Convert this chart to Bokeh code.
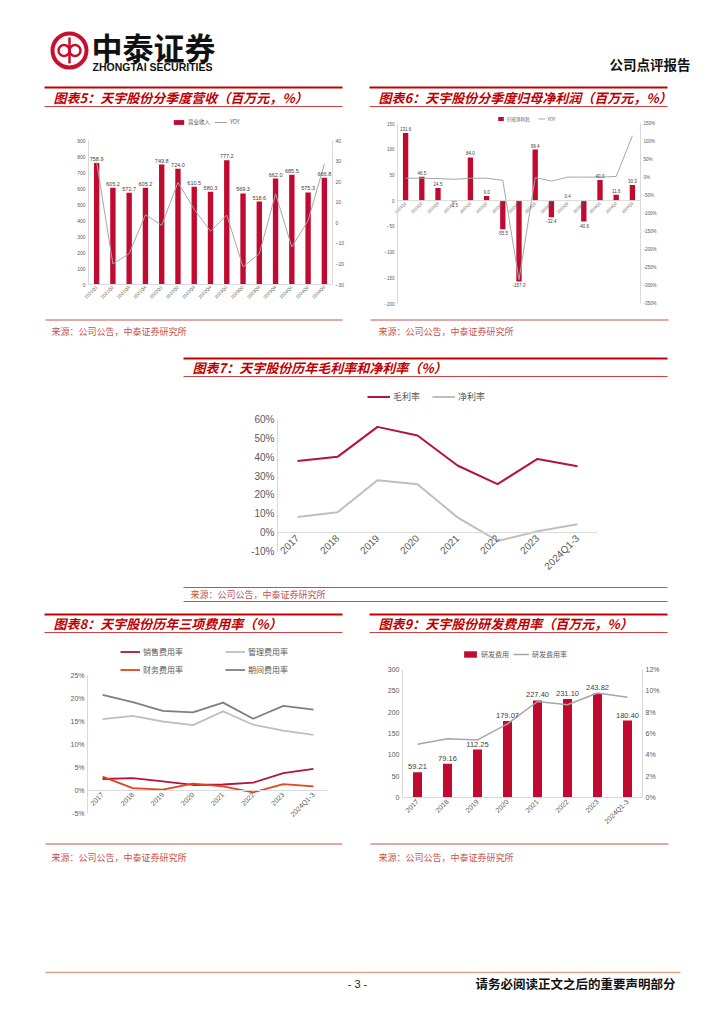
import math
from bokeh.plotting import figure
from bokeh.models import (Range1d, FactorRange, LinearAxis, FixedTicker, PrintfTickFormatter,
                          Legend, LegendItem, Spacer, Span)
from bokeh.layouts import column, row
from bokeh.core.properties import value
from bokeh.embed import file_html
from bokeh.resources import INLINE

# ---------------- data ----------------
quarters = ["2021Q1", "2021Q2", "2021Q3", "2021Q4", "2022Q1", "2022Q2", "2022Q3", "2022Q4",
            "2023Q1", "2023Q2", "2023Q3", "2023Q4", "2024Q1", "2024Q2", "2024Q3"]
revenue = [758.9, 605.2, 572.7, 605.2, 749.8, 724.0, 610.5, 580.3,
           777.2, 569.3, 518.6, 662.0, 685.5, 575.3, 666.8]
revenue_yoy = [29.5, -20.0, -15.0, 3.9, -1.2, 19.6, 6.6, -4.1,
               3.7, -21.4, -15.1, 14.1, -11.8, 1.1, 28.6]
net_profit = [131.6, 46.5, 24.5, -1.5, 84.0, 9.0, -55.5, -157.0,
              99.4, -32.4, 0.4, -40.6, 40.0, 11.6, 30.3]
net_profit_yoy = [-2, -2, -3, -5, -2, -2, -8, -284, 0, -10, 1, 1, 1, 3, 116]

years = ["2017", "2018", "2019", "2020", "2021", "2022", "2023", "2024Q1-3"]
gross_margin = [38.0, 40.2, 56.1, 51.5, 35.6, 25.7, 39.1, 35.2]
net_margin = [8.3, 10.8, 27.8, 25.7, 8.1, -4.4, 0.7, 4.4]
selling_rate = [2.5, 2.7, 2.0, 1.2, 1.3, 1.7, 3.8, 4.7]
admin_rate = [15.5, 16.2, 15.0, 14.2, 17.2, 14.3, 13.0, 12.1]
finance_rate = [3.0, 0.5, 0.2, 1.5, 0.9, -0.4, 1.4, 0.9]
period_rate = [20.8, 19.2, 17.3, 17.0, 19.1, 15.6, 18.4, 17.6]
rd_expense = [59.21, 79.16, 112.25, 179.07, 227.40, 231.10, 243.82, 180.40]
rd_rate = [5.0, 5.5, 5.4, 6.9, 9.0, 8.7, 9.8, 9.4]

# ---------------- styles ----------------
RED = "#C00A30"
CRIMSON = "#B5123C"
ORANGE = "#E0451B"
LGRAY = "#BFBFBF"
DGRAY = "#7F7F7F"
AX = "#D9D9D9"
TXT = "#595959"
CJK = "Noto Sans CJK SC"
LAT = "Liberation Sans"
TITLE_RED = "#C00000"
SRC_RED = "#C8504D"
SRC = "来源：公司公告，中泰证券研究所"


def lin(y, ya, va, yb, vb):
    return va + (y - ya) * (vb - va) / (yb - ya)


def base_fig(fb, fr, x_range, y_range):
    fx0, fy0, fx1, fy1 = fb
    px0, py0, px1, py1 = fr
    p = figure(width=fx1 - fx0, height=fy1 - fy0, x_range=x_range, y_range=y_range,
               output_backend="svg", toolbar_location=None, tools="",
               min_border_left=px0 - fx0, min_border_right=fx1 - px1,
               min_border_top=py0 - fy0, min_border_bottom=fy1 - py1)
    p.outline_line_color = None
    p.grid.visible = False
    p.background_fill_color = "white"
    p.border_fill_color = "white"
    return p


def style_axis(ax, size, font=LAT, standoff=3):
    ax.axis_line_color = AX
    ax.major_tick_line_color = None
    ax.minor_tick_line_color = None
    ax.major_tick_out = 0
    ax.major_tick_in = 0
    ax.minor_tick_out = 0
    ax.minor_tick_in = 0
    ax.major_label_text_font_size = f"{size}px"
    ax.major_label_text_color = TXT
    ax.major_label_text_font = font
    ax.major_label_standoff = standoff


def zero_axis(p, fr, size, gap):
    """x labels hang from the zero line (Excel style): axis line hidden, zero line as a Span."""
    px0, py0, px1, py1 = fr
    yr = p.y_range
    zpx = py1 - (0 - yr.start) / (yr.end - yr.start) * (py1 - py0)
    ax = p.xaxis[0]
    style_axis(ax, size, standoff=int(round(-(py1 - zpx) + gap)))
    ax.axis_line_color = None
    ax.major_label_orientation = math.pi / 4
    p.add_layout(Span(location=0, dimension="width", line_color=AX, line_width=1))


def legend_at(p, items, fr, x, yc, h, orientation="horizontal", size=9, font=CJK,
              gw=20, gh=None, spacing=10):
    px0, py0, px1, py1 = fr
    leg = Legend(items=items, orientation=orientation)
    leg.label_text_font = font
    leg.label_text_font_size = f"{size}px"
    leg.label_text_color = TXT
    leg.glyph_width = gw
    leg.glyph_height = gh if gh is not None else h
    leg.label_height = h
    leg.label_standoff = 3
    leg.spacing = spacing
    leg.padding = 0
    leg.margin = 0
    leg.border_line_color = None
    leg.background_fill_alpha = 0
    n = len(items) if orientation == "vertical" else 1
    total_h = n * h + (n - 1) * spacing
    leg.location = (x - px0, py1 - (yc - h / 2) - total_h)
    p.add_layout(leg, "center")
    return leg


def decor(x0, y0, x1, y1):
    p = figure(width=x1 - x0, height=y1 - y0, x_range=Range1d(x0, x1), y_range=Range1d(y1, y0),
               x_axis_type=None, y_axis_type=None, output_backend="svg",
               toolbar_location=None, tools="",
               min_border_left=0, min_border_right=0, min_border_top=0, min_border_bottom=0)
    p.outline_line_color = None
    p.grid.visible = False
    p.background_fill_color = "white"
    p.border_fill_color = "white"
    return p


def title_bar(p, x0, x1, ytop, ytxt, ybot, text):
    p.segment(x0=[x0], y0=[ytop], x1=[x1], y1=[ytop], line_color=TITLE_RED, line_width=2)
    p.segment(x0=[x0], y0=[ybot], x1=[x1], y1=[ybot], line_color="#D04040", line_width=1)
    p.text(x=[x0 + 9], y=[ytxt], text=[text], text_font=value(CJK), text_font_size="13px",
           text_font_style="bold italic", text_color=TITLE_RED, text_baseline="middle")


def source(p, x0, x1, yline, ytxt, xt):
    p.segment(x0=[x0], y0=[yline], x1=[x1], y1=[yline], line_color=SRC_RED, line_width=1)
    p.text(x=[xt], y=[ytxt], text=[SRC], text_font=value(CJK),
           text_font_size="9px", text_color=SRC_RED, text_baseline="middle")


W = 720

# ---------------- header ----------------
hdr = decor(0, 0, W, 80)
hdr.circle(x=[69], y=[50], radius=17, fill_color=None, line_color="#C8102E", line_width=4)
hdr.circle(x=[63.5, 74.5], y=[50, 50], radius=5.5, fill_color=None, line_color="#C8102E", line_width=2.5)
hdr.segment(x0=[69], y0=[37], x1=[69], y1=[63], line_color="#C8102E", line_width=2.5)
hdr.text(x=[91], y=[46], text=["中泰证券"], text_font=value(CJK), text_font_size="31px",
         text_font_style="bold", text_color="#111111", text_baseline="middle")
hdr.text(x=[92], y=[66], text=["ZHONGTAI SECURITIES"], text_font=value(LAT), text_font_size="10.5px",
         text_font_style="bold", text_color="#111111", text_baseline="middle")
hdr.text(x=[690], y=[63], text=["公司点评报告"], text_font=value(CJK), text_font_size="13.5px",
         text_font_style="bold", text_color="#111111", text_baseline="middle", text_align="right")

# ---------------- titles 5 & 6 ----------------
t56 = decor(0, 80, W, 110)
title_bar(t56, 44, 342, 87, 97, 106, "图表5：天宇股份分季度营收（百万元，%）")
title_bar(t56, 369, 667, 87, 97, 106, "图表6：天宇股份分季度归母净利润（百万元，%）")

# row 1 frames share top/bottom (Bokeh aligns frames inside a row)
R1_TOP, R1_BOT = 112, 303

# ---------------- chart 5 ----------------
fb5 = (40, 110, 350, 318)
fr5 = (88, R1_TOP, 332, R1_BOT)
p5 = base_fig(fb5, fr5, FactorRange(factors=quarters),
              Range1d(lin(R1_BOT, 284, 0, 140, 900), lin(R1_TOP, 284, 0, 140, 900)))
p5.extra_y_ranges = {"yoy": Range1d(lin(R1_BOT, 284, -30, 140, 40), lin(R1_TOP, 284, -30, 140, 40))}
r5b = p5.vbar(x=quarters, top=revenue, width=0.33, fill_color=RED, line_color=None)
r5l = p5.line(x=quarters, y=revenue_yoy, y_range_name="yoy", line_color="#A6A6A6", line_width=1)
p5.text(x=quarters, y=revenue, text=[f"{v:.1f}" for v in revenue], text_align="center",
        text_baseline="bottom", y_offset=-2, text_font=value(LAT), text_font_size="5.5px",
        text_color="#404040")
style_axis(p5.yaxis[0], 5)
p5.yaxis[0].ticker = FixedTicker(ticks=[0, 100, 200, 300, 400, 500, 600, 700, 800, 900])
p5.yaxis[0].bounds = (0, 900)
ax5r = LinearAxis(y_range_name="yoy", ticker=FixedTicker(ticks=[-30, -20, -10, 0, 10, 20, 30, 40]),
                  bounds=(-30, 40))
style_axis(ax5r, 5)
p5.add_layout(ax5r, "right")
zero_axis(p5, fr5, 4.5, 2)
legend_at(p5, [LegendItem(label="营业收入", renderers=[r5b]), LegendItem(label="YOY", renderers=[r5l])],
          fr5, 172, 123, 6, size=5.5, gw=13, gh=6, spacing=4)

# ---------------- chart 6 ----------------
fb6 = (350, 110, 680, 318)
fr6 = (397, R1_TOP, 640, R1_BOT)
p6 = base_fig(fb6, fr6, FactorRange(factors=quarters),
              Range1d(-200, lin(R1_TOP, R1_BOT, -200, 123, 150)))
p6.extra_y_ranges = {"yoy": Range1d(-350, lin(R1_TOP, R1_BOT, -350, 123, 150))}
r6b = p6.vbar(x=quarters, top=net_profit, width=0.33, fill_color=RED, line_color=None)
r6l = p6.line(x=quarters, y=net_profit_yoy, y_range_name="yoy", line_color="#A6A6A6", line_width=1)
pos_q = [q for q, v in zip(quarters, net_profit) if v >= 0]
pos_v = [v for v in net_profit if v >= 0]
neg_q = [q for q, v in zip(quarters, net_profit) if v < 0]
neg_v = [v for v in net_profit if v < 0]
p6.text(x=pos_q, y=pos_v, text=[f"{v:.1f}" for v in pos_v], text_align="center",
        text_baseline="bottom", y_offset=-2, text_font=value(LAT), text_font_size="4.5px",
        text_color="#404040")
p6.text(x=neg_q, y=neg_v, text=[f"{v:.1f}" for v in neg_v], text_align="center",
        text_baseline="top", y_offset=2, text_font=value(LAT), text_font_size="4.5px",
        text_color="#404040")
style_axis(p6.yaxis[0], 4.5)
p6.yaxis[0].ticker = FixedTicker(ticks=[-200, -150, -100, -50, 0, 50, 100, 150])
p6.yaxis[0].bounds = (-200, 150)
ax6r = LinearAxis(y_range_name="yoy",
                  ticker=FixedTicker(ticks=[-350, -300, -250, -200, -150, -100, -50, 0, 50, 100, 150]),
                  bounds=(-350, 150), formatter=PrintfTickFormatter(format="%d%%"))
style_axis(ax6r, 4.5)
p6.add_layout(ax6r, "right")
zero_axis(p6, fr6, 4, 2)
legend_at(p6, [LegendItem(label="归母净利润", renderers=[r6b]), LegendItem(label="YOY", renderers=[r6l])],
          fr6, 497, 119, 5, size=4.5, gw=7, gh=5, spacing=8)

# ---------------- sources 5/6 + title 7 ----------------
m1 = decor(0, 318, W, 378)
source(m1, 45, 342, 319.5, 331, 51)
source(m1, 370, 668, 319.5, 331, 378)
title_bar(m1, 183, 667, 358, 367, 376, "图表7：天宇股份历年毛利率和净利率（%）")

# ---------------- chart 7 ----------------
fb7 = (183, 378, 667, 585)
fr7 = (277, 388, 597, 551)
p7 = base_fig(fb7, fr7, FactorRange(factors=years), Range1d(-10, lin(388, 551, -10, 419, 60)))
r7a = p7.line(x=years, y=gross_margin, line_color=CRIMSON, line_width=2)
r7b = p7.line(x=years, y=net_margin, line_color=LGRAY, line_width=2)
style_axis(p7.yaxis[0], 10)
p7.yaxis[0].ticker = FixedTicker(ticks=[-10, 0, 10, 20, 30, 40, 50, 60])
p7.yaxis[0].bounds = (-10, 60)
p7.yaxis[0].formatter = PrintfTickFormatter(format="%d%%")
zero_axis(p7, fr7, 10, 4)
legend_at(p7, [LegendItem(label="毛利率", renderers=[r7a]), LegendItem(label="净利率", renderers=[r7b])],
          fr7, 367, 397, 11, size=9, gw=23, spacing=12)

# ---------------- source 7 + titles 8/9 ----------------
m2 = decor(0, 585, W, 635)
source(m2, 183, 667, 587, 594, 190)
m2.segment(x0=[183], y0=[601], x1=[667], y1=[601], line_color=SRC_RED, line_width=1)
title_bar(m2, 44, 342, 614, 623, 632, "图表8：天宇股份历年三项费用率（%）")
title_bar(m2, 369, 667, 614, 623, 632, "图表9：天宇股份研发费用率（百万元，%）")

# row 3 frames share top/bottom
R3_TOP, R3_BOT = 642, 813

# ---------------- chart 8 ----------------
fb8 = (40, 635, 350, 842)
fr8 = (87, R3_TOP, 328, R3_BOT)
p8 = base_fig(fb8, fr8, FactorRange(factors=years), Range1d(-5, lin(R3_TOP, R3_BOT, -5, 675, 25)))
r8a = p8.line(x=years, y=selling_rate, line_color=CRIMSON, line_width=1.8)
r8b = p8.line(x=years, y=admin_rate, line_color=LGRAY, line_width=1.8)
r8c = p8.line(x=years, y=finance_rate, line_color=ORANGE, line_width=1.8)
r8d = p8.line(x=years, y=period_rate, line_color=DGRAY, line_width=1.8)
style_axis(p8.yaxis[0], 7)
p8.yaxis[0].ticker = FixedTicker(ticks=[-5, 0, 5, 10, 15, 20, 25])
p8.yaxis[0].bounds = (-5, 25)
p8.yaxis[0].formatter = PrintfTickFormatter(format="%d%%")
zero_axis(p8, fr8, 7, 3)
legend_at(p8, [LegendItem(label="销售费用率", renderers=[r8a]), LegendItem(label="财务费用率", renderers=[r8c])],
          fr8, 120, 654, 9, orientation="vertical", size=8, gw=20, spacing=7)
legend_at(p8, [LegendItem(label="管理费用率", renderers=[r8b]), LegendItem(label="期间费用率", renderers=[r8d])],
          fr8, 225, 654, 9, orientation="vertical", size=8, gw=20, spacing=7)

# ---------------- chart 9 ----------------
fb9 = (350, 635, 680, 842)
fr9 = (402, R3_TOP, 642, R3_BOT)
p9 = base_fig(fb9, fr9, FactorRange(factors=years),
              Range1d(lin(R3_BOT, 797, 0, 669, 300), lin(R3_TOP, 797, 0, 669, 300)))
p9.extra_y_ranges = {"rate": Range1d(lin(R3_BOT, 797, 0, 669, 12), lin(R3_TOP, 797, 0, 669, 12))}
r9b = p9.vbar(x=years, top=rd_expense, width=0.3, fill_color=RED, line_color=None)
r9l = p9.line(x=years, y=rd_rate, y_range_name="rate", line_color="#A6A6A6", line_width=1.5)
p9.text(x=years, y=rd_expense, text=[f"{v:.2f}" for v in rd_expense], text_align="center",
        text_baseline="bottom", y_offset=-3, text_font=value(LAT), text_font_size="7.5px",
        text_color="#404040")
style_axis(p9.yaxis[0], 7)
p9.yaxis[0].ticker = FixedTicker(ticks=[0, 50, 100, 150, 200, 250, 300])
p9.yaxis[0].bounds = (0, 300)
ax9r = LinearAxis(y_range_name="rate", ticker=FixedTicker(ticks=[0, 2, 4, 6, 8, 10, 12]),
                  bounds=(0, 12), formatter=PrintfTickFormatter(format="%d%%"))
style_axis(ax9r, 7)
p9.add_layout(ax9r, "right")
zero_axis(p9, fr9, 7, 3)
legend_at(p9, [LegendItem(label="研发费用", renderers=[r9b]), LegendItem(label="研发费用率", renderers=[r9l])],
          fr9, 462, 655, 8, size=7, gw=16, gh=8, spacing=4)

# ---------------- sources 8/9 + footer ----------------
ft = decor(0, 842, W, 1016)
source(ft, 45, 342, 843.5, 857, 51)
source(ft, 370, 668, 843.5, 857, 378)
ft.segment(x0=[45], y0=[972], x1=[680], y1=[972], line_color="#D9A588", line_width=1.5)
ft.text(x=[357], y=[983], text=["- 3 -"], text_font=value(LAT), text_font_size="11px",
        text_color="#222222", text_baseline="middle", text_align="center")
ft.text(x=[675], y=[983], text=["请务必阅读正文之后的重要声明部分"], text_font=value(CJK),
        text_font_size="12.5px", text_font_style="bold", text_color="#111111",
        text_baseline="middle", text_align="right")

layout = column(
    hdr,
    t56,
    row(Spacer(width=40, height=208), p5, p6, Spacer(width=40, height=208)),
    m1,
    row(Spacer(width=183, height=207), p7, Spacer(width=53, height=207)),
    m2,
    row(Spacer(width=40, height=207), p8, p9, Spacer(width=40, height=207)),
    ft,
)

open("out.html", "w").write(file_html(layout, INLINE))
